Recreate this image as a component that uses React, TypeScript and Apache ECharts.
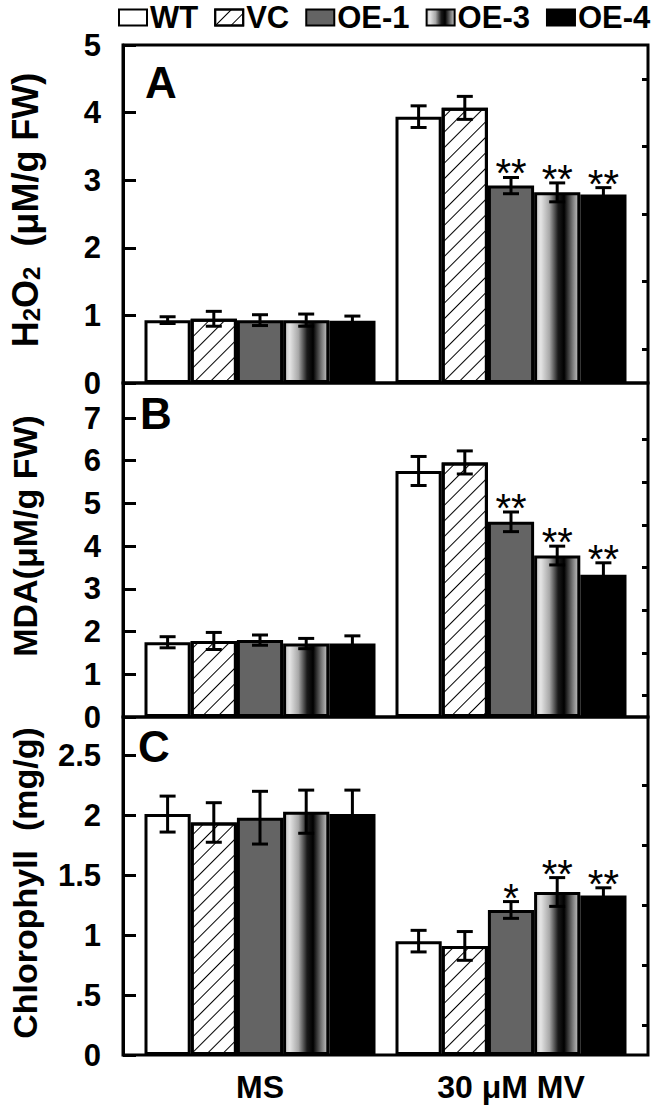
import React, { useEffect, useRef } from "react";
import * as echarts from "echarts";

// ---------- data ----------
const categories = ["MS", "30 μM MV"];
const seriesNames = ["WT", "VC", "OE-1", "OE-3", "OE-4"];

// Panel A: H2O2 (μM/g FW)   [MS, 30 μM MV]
const h2o2WT = [0.93, 3.94];
const h2o2VC = [0.95, 4.07];
const h2o2OE1 = [0.93, 2.92];
const h2o2OE3 = [0.93, 2.82];
const h2o2OE4 = [0.92, 2.79];
const h2o2ErrWT = [0.05, 0.16];
const h2o2ErrVC = [0.11, 0.17];
const h2o2ErrOE1 = [0.08, 0.12];
const h2o2ErrOE3 = [0.09, 0.14];
const h2o2ErrOE4 = [0.07, 0.1];
const h2o2Sig = [["", ""], ["", ""], ["", "**"], ["", "**"], ["", "**"]];

// Panel B: MDA (μM/g FW)
const mdaWT = [1.75, 5.76];
const mdaVC = [1.78, 5.96];
const mdaOE1 = [1.8, 4.57];
const mdaOE3 = [1.72, 3.78];
const mdaOE4 = [1.72, 3.33];
const mdaErrWT = [0.13, 0.34];
const mdaErrVC = [0.2, 0.27];
const mdaErrOE1 = [0.12, 0.23];
const mdaErrOE3 = [0.12, 0.22];
const mdaErrOE4 = [0.18, 0.28];
const mdaSig = [["", ""], ["", ""], ["", "**"], ["", "**"], ["", "**"]];

// Panel C: Chlorophyll (mg/g)
const chlWT = [2.01, 0.95];
const chlVC = [1.94, 0.91];
const chlOE1 = [1.98, 1.21];
const chlOE3 = [2.03, 1.36];
const chlOE4 = [2.01, 1.33];
const chlErrWT = [0.15, 0.09];
const chlErrVC = [0.165, 0.12];
const chlErrOE1 = [0.22, 0.07];
const chlErrOE3 = [0.18, 0.12];
const chlErrOE4 = [0.2, 0.065];
const chlSig = [["", ""], ["", ""], ["", "*"], ["", "**"], ["", "**"]];

// axis ticks
const aTicks = [0, 1, 2, 3, 4, 5];
const aTickLabels = ["0", "1", "2", "3", "4", "5"];
const aMinor = [0.5, 1.5, 2.5, 3.5, 4.5];
const aMax = 5;
const bTicks = [0, 1, 2, 3, 4, 5, 6, 7];
const bTickLabels = ["0", "1", "2", "3", "4", "5", "6", "7"];
const bMinor = [0.5, 1.5, 2.5, 3.5, 4.5, 5.5, 6.5];
const bMax = 7.82;
const cTicks = [0, 0.5, 1, 1.5, 2, 2.5];
const cTickLabels = ["0", ".5", "1", "1.5", "2", "2.5"];
const cMinor = [0.25, 0.75, 1.25, 1.75, 2.25];
const cMax = 2.82;

// ---------- layout ----------
const FONT = "'Liberation Sans', Arial, sans-serif";
const FRAME_L = 123;
const FRAME_W = 525;
const INSET = 11.5;
const BAR_W = 46.2;
const PANEL_TOPS = [45, 383, 717];
const PANEL_H = [338, 334, 338];

const panels = [
  {
    means: [h2o2WT, h2o2VC, h2o2OE1, h2o2OE3, h2o2OE4],
    errs: [h2o2ErrWT, h2o2ErrVC, h2o2ErrOE1, h2o2ErrOE3, h2o2ErrOE4],
    sig: h2o2Sig,
    ticks: aTicks,
    labels: aTickLabels,
    minor: aMinor,
    max: aMax,
  },
  {
    means: [mdaWT, mdaVC, mdaOE1, mdaOE3, mdaOE4],
    errs: [mdaErrWT, mdaErrVC, mdaErrOE1, mdaErrOE3, mdaErrOE4],
    sig: mdaSig,
    ticks: bTicks,
    labels: bTickLabels,
    minor: bMinor,
    max: bMax,
  },
  {
    means: [chlWT, chlVC, chlOE1, chlOE3, chlOE4],
    errs: [chlErrWT, chlErrVC, chlErrOE1, chlErrOE3, chlErrOE4],
    sig: chlSig,
    ticks: cTicks,
    labels: cTickLabels,
    minor: cMinor,
    max: cMax,
  },
];

const barStyles: any[] = [
  { color: "#ffffff" },
  {
    color: "#ffffff",
    decal: {
      symbol: "rect",
      symbolSize: 1,
      color: "#000000",
      dashArrayX: [1, 0],
      dashArrayY: [1, 9.5],
      rotation: -Math.PI / 4,
    },
  },
  { color: "#646464" },
  {
    color: {
      type: "linear",
      x: 0,
      y: 0,
      x2: 1,
      y2: 0,
      colorStops: [
        { offset: 0, color: "#c4c4c4" },
        { offset: 0.12, color: "#e4e4e4" },
        { offset: 0.32, color: "#a8a8a8" },
        { offset: 0.52, color: "#1a1a1a" },
        { offset: 0.66, color: "#000000" },
        { offset: 0.86, color: "#7a7a7a" },
        { offset: 1, color: "#c8c8c8" },
      ],
    },
  },
  { color: "#000000" },
];

function buildOption() {
  const grid: any[] = [];
  const xAxis: any[] = [];
  const yAxis: any[] = [];
  const series: any[] = [];

  panels.forEach((p, pi) => {
    const top = PANEL_TOPS[pi];
    const height = PANEL_H[pi];
    grid.push({
      left: FRAME_L,
      width: FRAME_W,
      top,
      height,
      show: true,
      borderColor: "#000",
      borderWidth: 3,
      backgroundColor: "transparent",
      z: 5,
    });
    grid.push({
      left: FRAME_L + INSET,
      width: FRAME_W - 2 * INSET,
      top,
      height,
    });
    xAxis.push({ type: "value", gridIndex: 2 * pi, min: 0, max: 1, show: false });
    xAxis.push({
      type: "category",
      gridIndex: 2 * pi + 1,
      data: categories,
      show: pi === 2,
      axisLine: { show: false },
      axisTick: { show: false },
      axisLabel: {
        show: pi === 2,
        fontSize: 32,
        fontWeight: "bold",
        fontFamily: FONT,
        color: "#000",
        margin: 16,
      },
    });
    const labelMap = (v: number) => {
      const i = p.ticks.indexOf(v);
      return i >= 0 ? p.labels[i] : "";
    };
    yAxis.push({
      type: "value",
      gridIndex: 2 * pi,
      min: 0,
      max: p.max,
      axisLine: { show: true, lineStyle: { color: "#000", width: 3 } },
      axisTick: {
        show: true,
        inside: true,
        length: 13,
        lineStyle: { color: "#000", width: 3 },
        customValues: p.ticks,
      },
      axisLabel: {
        customValues: p.ticks,
        formatter: labelMap,
        fontSize: 31,
        fontWeight: "bold",
        fontFamily: FONT,
        color: "#000",
        margin: 22,
      },
      splitLine: { show: false },
      z: 6,
    });
    yAxis.push({
      type: "value",
      gridIndex: 2 * pi,
      min: 0,
      max: p.max,
      axisLine: { show: false },
      axisTick: {
        show: true,
        inside: true,
        length: 6,
        lineStyle: { color: "#000", width: 3 },
        customValues: p.minor,
      },
      axisLabel: { show: false },
      splitLine: { show: false },
      z: 6,
    });
    yAxis.push({ type: "value", gridIndex: 2 * pi + 1, min: 0, max: p.max, show: false });

    p.means.forEach((vals, si) => {
      series.push({
        type: "bar",
        name: seriesNames[si],
        xAxisIndex: 2 * pi + 1,
        yAxisIndex: 3 * pi + 2,
        data: vals,
        barWidth: BAR_W,
        barGap: "0%",
        itemStyle: { ...barStyles[si], borderColor: "#000", borderWidth: 3 },
        silent: true,
        z: 2,
      });
    });

    const errData: number[][] = [];
    const sigTexts: string[] = [];
    p.means.forEach((vals, si) => {
      vals.forEach((m, ci) => {
        errData.push([ci, si, m, p.errs[si][ci]]);
        sigTexts.push(p.sig[si][ci]);
      });
    });
    series.push({
      type: "custom",
      xAxisIndex: 2 * pi + 1,
      yAxisIndex: 3 * pi + 2,
      data: errData,
      encode: { x: 0, y: 2 },
      silent: true,
      z: 4,
      renderItem: (params: any, api: any) => {
        const ci = api.value(0);
        const si = api.value(1);
        const m = api.value(2);
        const e = api.value(3);
        const c = api.coord([ci, m]);
        const x = c[0] + (si - 2) * BAR_W;
        const yt = api.coord([ci, m + e])[1];
        const yb = api.coord([ci, m - e])[1];
        const cap = 8;
        const ls = { stroke: "#000", lineWidth: 3 };
        const children: any[] = [
          { type: "line", shape: { x1: x, y1: yt, x2: x, y2: yb }, style: ls },
          { type: "line", shape: { x1: x - cap, y1: yt, x2: x + cap, y2: yt }, style: ls },
          { type: "line", shape: { x1: x - cap, y1: yb, x2: x + cap, y2: yb }, style: ls },
        ];
        const t = sigTexts[params.dataIndex];
        if (t) {
          children.push({
            type: "text",
            x,
            y: yt - 4,
            style: {
              text: t,
              fontSize: 40,
              fontFamily: FONT,
              fill: "#000",
              align: "center",
              verticalAlign: "middle",
              textAlign: "center",
              textVerticalAlign: "middle",
            },
          });
        }
        return { type: "group", children };
      },
    });
  });

  const mkRich = (big: number, small: number) => ({
    b: { fontSize: big, fontWeight: "bold", fontFamily: FONT, fill: "#000", color: "#000" },
    s: {
      fontSize: small,
      fontWeight: "bold",
      fontFamily: FONT,
      fill: "#000",
      color: "#000",
      verticalAlign: "bottom",
    },
  });
  const mkTitle = (text: string, x: number, y: number, big: number, small: number) => ({
    type: "text",
    x,
    y,
    rotation: Math.PI / 2,
    style: {
      text,
      rich: mkRich(big, small),
      fill: "#000",
      align: "center",
      verticalAlign: "middle",
      textAlign: "center",
      textVerticalAlign: "middle",
    },
  });
  const mkLetter = (text: string, x: number, y: number) => ({
    type: "text",
    x,
    y,
    style: {
      text,
      fontSize: 44,
      fontWeight: "bold",
      fontFamily: FONT,
      fill: "#000",
      align: "center",
      verticalAlign: "middle",
      textAlign: "center",
      textVerticalAlign: "middle",
    },
  });

  return {
    animation: false,
    backgroundColor: "#fff",
    legend: {
      top: 2,
      left: 118,
      padding: 0,
      itemWidth: 28,
      itemHeight: 16,
      itemGap: 16,
      icon: "rect",
      selectedMode: false,
      data: seriesNames,
      itemStyle: { borderColor: "#000", borderWidth: 2 },
      textStyle: { fontSize: 31, fontWeight: "bold", fontFamily: FONT, color: "#000", padding: [0, 0, 0, -2] },
    },
    grid,
    xAxis,
    yAxis,
    series,
    graphic: [
      mkTitle("{b|H}{s|2}{b|O}{s|2}{b|  (μM/g FW)}", 25, 210, 36, 24),
      mkTitle("{b|MDA(μM/g FW)}", 25, 536, 34, 22),
      mkTitle("{b|Chlorophyll  (mg/g)}", 25, 883, 34, 22),
      mkLetter("A", 161, 82),
      mkLetter("B", 156, 413),
      mkLetter("C", 154, 746),
    ],
  };
}

export default function App() {
  const ref = useRef<HTMLDivElement>(null);
  useEffect(() => {
    document.body.style.margin = "0";
    if (!ref.current) return;
    const chart = echarts.init(ref.current, null, { renderer: "svg" });
    chart.setOption(buildOption() as any);
    return () => chart.dispose();
  }, []);
  return <div ref={ref} style={{ width: 662, height: 1114 }} />;
}
